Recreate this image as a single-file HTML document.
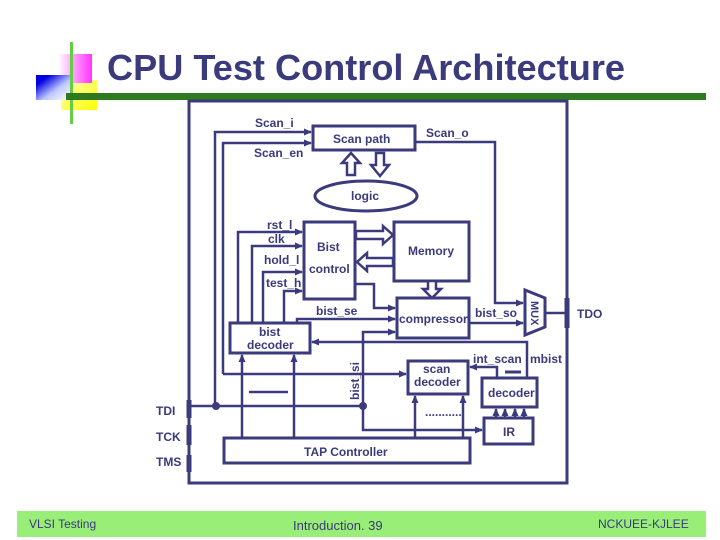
<!DOCTYPE html>
<html><head><meta charset="utf-8"><style>
html,body{margin:0;padding:0;background:#fff;}
svg{display:block;}
text{font-family:"Liberation Sans",Arial,sans-serif;font-weight:bold;fill:#3a3a7c;}
</style></head><body>
<svg width="720" height="540" viewBox="0 0 720 540" xmlns="http://www.w3.org/2000/svg">
<defs>
<linearGradient id="pk" x1="0" y1="0" x2="1" y2="0"><stop offset="0" stop-color="#fff"/><stop offset="1" stop-color="#ff33ff"/></linearGradient>
<linearGradient id="bl" x1="0" y1="0" x2="1" y2="1"><stop offset="0.2" stop-color="#0000e0"/><stop offset="0.6" stop-color="#c0c8ff"/><stop offset="1" stop-color="#fff"/></linearGradient>
<linearGradient id="yl" x1="0" y1="0" x2="1" y2="1"><stop offset="0" stop-color="#ffffc0"/><stop offset="1" stop-color="#ffff00"/></linearGradient>
<marker id="a" markerWidth="8" markerHeight="8" refX="7" refY="4" orient="auto" markerUnits="userSpaceOnUse"><path d="M0,0.5 L8,4 L0,7.5 Z" fill="#3a3a7c"/></marker>
</defs>
<!-- logo -->
<rect x="61" y="80" width="36" height="30" fill="url(#yl)"/>
<rect x="58" y="54" width="34" height="29" fill="url(#pk)"/>
<rect x="36" y="75" width="34" height="25" fill="url(#bl)"/>
<rect x="70" y="42" width="3" height="82" fill="#66cc44"/>
<rect x="66" y="93" width="640" height="7" fill="#2f7a1f"/>
<text x="107" y="80" font-size="36" textLength="518" lengthAdjust="spacingAndGlyphs" style="font-weight:bold">CPU Test Control Architecture</text>

<g stroke="#3a3a7c" stroke-width="3" fill="none">
<!-- outer box -->
<rect x="189" y="101" width="378" height="382"/>
<line x1="189" y1="400" x2="189" y2="418" stroke-width="5"/>
<line x1="189" y1="425" x2="189" y2="445" stroke-width="5"/>
<line x1="189" y1="455" x2="189" y2="472" stroke-width="5"/>
<line x1="567" y1="298" x2="567" y2="328" stroke-width="5"/>
<!-- boxes -->
<rect x="313" y="126" width="102" height="24"/>
<ellipse cx="366" cy="196" rx="51" ry="15"/>
<rect x="304" y="222" width="51" height="77"/>
<rect x="394" y="222" width="75" height="59"/>
<rect x="397" y="298" width="72" height="40"/>
<rect x="230" y="323" width="80" height="30"/>
<rect x="408" y="361" width="60" height="33"/>
<rect x="482" y="378" width="55" height="29"/>
<rect x="484" y="418" width="49" height="26"/>
<rect x="224" y="438" width="246" height="25"/>
<path d="M525,290 L545,298 L545,327 L525,335 Z"/>
</g>
<g stroke="#3a3a7c" stroke-width="2.5" fill="none">
<path d="M215,406 L215,132 L311,132" marker-end="url(#a)"/>
<path d="M223,374 L223,143 L311,143" marker-end="url(#a)"/>
<path d="M223,374 L406,374" marker-end="url(#a)"/>
<path d="M415,142 L495,142 L495,303 L523,303" marker-end="url(#a)"/>
<path d="M238,323 L238,232 L302,232" marker-end="url(#a)"/>
<path d="M252,323 L252,246 L302,246" marker-end="url(#a)"/>
<path d="M263,323 L263,272 L302,272" marker-end="url(#a)"/>
<path d="M284,323 L284,291 L302,291" marker-end="url(#a)"/>
<path d="M355,284 L374,284 L374,308 L395,308" marker-end="url(#a)"/>
<path d="M297,323 L297,319 L395,319" marker-end="url(#a)"/>
<path d="M189,406 L363,406"/>
<path d="M363,406 L363,332 L395,332" marker-end="url(#a)"/>
<path d="M363,406 L363,430 L482,430" marker-end="url(#a)"/>
<path d="M469,323 L523,323" marker-end="url(#a)"/>
<path d="M545,313 L567,313"/>
<path d="M527,378 L527,342 L312,342" marker-end="url(#a)"/>
<path d="M497,378 L497,367 L470,367" marker-end="url(#a)"/>
<line x1="505" y1="372" x2="521" y2="372" stroke-width="3"/>
<path d="M496,418 L496,409" marker-end="url(#a)"/>
<path d="M505,418 L505,409" marker-end="url(#a)"/>
<path d="M515,418 L515,409" marker-end="url(#a)"/>
<path d="M524,418 L524,409" marker-end="url(#a)"/>
<path d="M242,438 L242,355" marker-end="url(#a)"/>
<path d="M294,438 L294,355" marker-end="url(#a)"/>
<path d="M415,438 L415,396" marker-end="url(#a)"/>
<path d="M463,438 L463,396" marker-end="url(#a)"/>
<line x1="249" y1="392" x2="288" y2="392" stroke-width="2.5"/>
</g>
<circle cx="216" cy="406" r="4" fill="#3a3a7c"/>
<circle cx="363" cy="406" r="4" fill="#3a3a7c"/>
<g stroke="#3a3a7c" stroke-width="2.5" fill="#fff">
<path d="M347,175 L347,163 L342,163 L351,153 L360,163 L355,163 L355,175 Z"/>
<path d="M376,153 L376,165 L371,165 L380,176 L389,165 L384,165 L384,153 Z"/>
<path d="M356,231 L383,231 L383,226 L393,235 L383,244 L383,239 L356,239 Z"/>
<path d="M393,258 L367,258 L367,253 L357,262 L367,271 L367,266 L393,266 Z"/>
<path d="M428,281 L428,289 L423,289 L432,298 L441,289 L436,289 L436,281 Z"/>
</g>
<g font-size="12">
<text x="255" y="127">Scan_i</text>
<text x="333" y="143">Scan path</text>
<text x="426" y="137">Scan_o</text>
<text x="254" y="157">Scan_en</text>
<text x="351" y="200">logic</text>
<text x="267" y="229">rst_l</text>
<text x="268" y="243">clk</text>
<text x="317" y="251">Bist</text>
<text x="309" y="273">control</text>
<text x="408" y="255">Memory</text>
<text x="264" y="264">hold_l</text>
<text x="266" y="287">test_h</text>
<text x="316" y="315">bist_se</text>
<text x="399" y="323">compressor</text>
<text x="475" y="317">bist_so</text>
<text x="577" y="318">TDO</text>
<text x="259" y="336">bist</text>
<text x="247" y="349">decoder</text>
<text x="423" y="373">scan</text>
<text x="414" y="386">decoder</text>
<text x="473" y="363">int_scan</text>
<text x="530" y="363">mbist</text>
<text x="488" y="397">decoder</text>
<text x="503" y="436">IR</text>
<text x="425" y="416">...........</text>
<text x="156" y="415">TDI</text>
<text x="156" y="441">TCK</text>
<text x="156" y="466">TMS</text>
<text x="304" y="456">TAP Controller</text>
<text transform="translate(359,400) rotate(-90)">bist_si</text>
<text transform="translate(531,301) rotate(90)" font-size="11">MUX</text>
</g>
<rect x="17" y="511" width="689" height="26" fill="#99ee77"/>
<text x="29" y="528" font-size="12" style="font-weight:normal">VLSI Testing</text>
<text x="293" y="530" font-size="13" style="font-weight:normal">Introduction. 39</text>
<text x="598" y="528" font-size="12" style="font-weight:normal">NCKUEE-KJLEE</text>
</svg>
</body></html>
